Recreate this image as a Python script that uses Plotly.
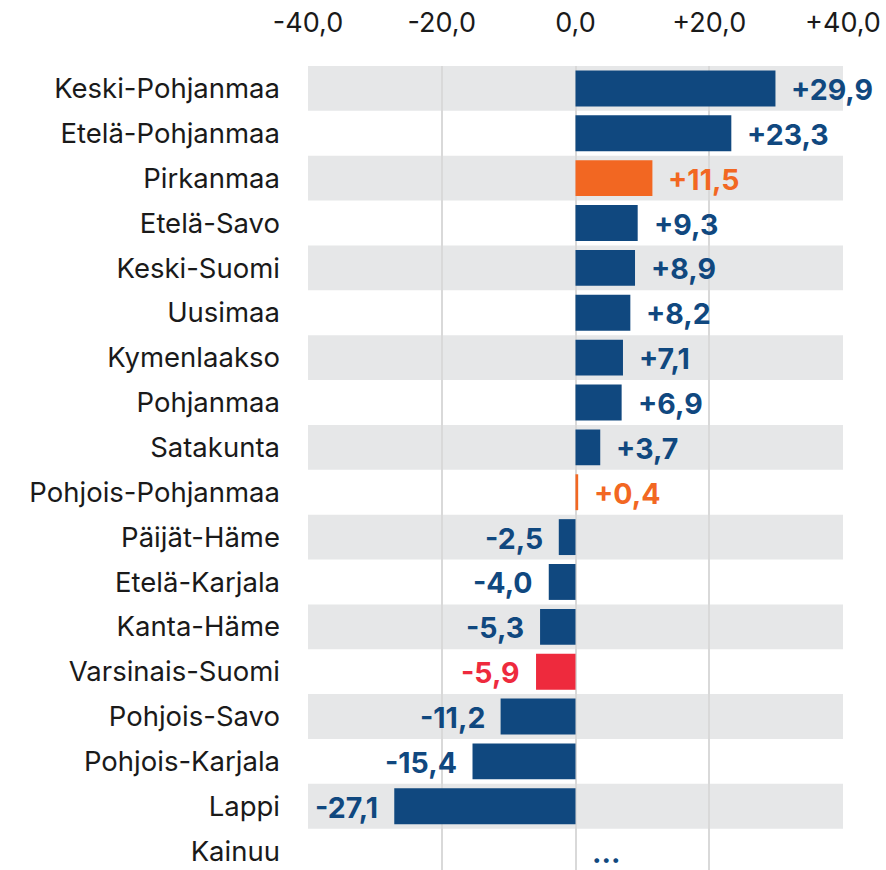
import plotly.graph_objects as go

regions = ["Keski-Pohjanmaa", "Etelä-Pohjanmaa", "Pirkanmaa", "Etelä-Savo", "Keski-Suomi",
           "Uusimaa", "Kymenlaakso", "Pohjanmaa", "Satakunta", "Pohjois-Pohjanmaa",
           "Päijät-Häme", "Etelä-Karjala", "Kanta-Häme", "Varsinais-Suomi", "Pohjois-Savo",
           "Pohjois-Karjala", "Lappi", "Kainuu"]
values = [29.9, 23.3, 11.5, 9.3, 8.9, 8.2, 7.1, 6.9, 3.7, 0.4,
          -2.5, -4.0, -5.3, -5.9, -11.2, -15.4, -27.1, None]
highlight = ["blue", "blue", "orange", "blue", "blue", "blue", "blue", "blue", "blue", "orange",
             "blue", "blue", "blue", "red", "blue", "blue", "blue", "blue"]
tick_vals = [-40, -20, 0, 20, 40]
tick_text = ["-40,0", "-20,0", "0,0", "+20,0", "+40,0"]

palette = {"blue": "#10487f", "orange": "#f26722", "red": "#ee2a3d"}
colors = [palette[h] for h in highlight]

def fmt(v):
    if v is None:
        return "..."
    s = f"{abs(v):.1f}".replace(".", ",")
    return ("+" if v >= 0 else "-") + s

ypos = list(range(len(regions)))

fig = go.Figure()
fig.add_trace(go.Bar(
    x=[v if v is not None else 0 for v in values], y=ypos, orientation="h",
    marker=dict(color=colors, line=dict(width=0)), width=0.8, hoverinfo="skip",
))

shapes = []
for i in ypos:
    if i % 2 == 0:
        shapes.append(dict(type="rect", xref="x", yref="y", x0=-40, x1=40,
                           y0=i - 0.5, y1=i + 0.5, fillcolor="#e6e7e8",
                           line=dict(width=0), layer="below"))

annotations = []
for i, v in enumerate(values):
    xv = v if v is not None else 0
    pos = v is None or v >= 0
    annotations.append(dict(
        x=xv, y=i, xref="x", yref="y", text=fmt(v), showarrow=False,
        xanchor="left" if pos else "right", xshift=14 if pos else -14,
        yshift=-1,
        font=dict(family="Inter", size=28.5, color=colors[i], weight="bold"),
    ))

fig.update_layout(
    width=886, height=870,
    margin=dict(l=308, r=43, t=66, b=0, autoexpand=False),
    paper_bgcolor="white", plot_bgcolor="white",
    shapes=shapes, annotations=annotations, showlegend=False, bargap=0.2,
    font=dict(family="Inter", color="#1a1a1a"),
)
fig.update_xaxes(
    range=[-40, 40], side="top", tickvals=tick_vals, ticktext=tick_text,
    showgrid=True, gridcolor="#d9d9d9", gridwidth=1.5, zeroline=True,
    zerolinecolor="#d9d9d9", zerolinewidth=1.5,
    tickfont=dict(size=27, color="#1a1a1a", family="Inter"),
    ticks="", ticklabelstandoff=28, fixedrange=True, automargin=False,
)
fig.update_yaxes(
    range=[17.42, -0.5], tickvals=ypos, ticktext=regions, showgrid=False,
    zeroline=False, ticks="", tickfont=dict(size=27.5, color="#1a1a1a", family="Inter"),
    ticklabelstandoff=27, fixedrange=True, automargin=False,
)
fig.write_html(
    "out.html",
    config={"displayModeBar": False},
    post_script="document.body.style.margin='0px';document.body.style.overflow='hidden';",
)
